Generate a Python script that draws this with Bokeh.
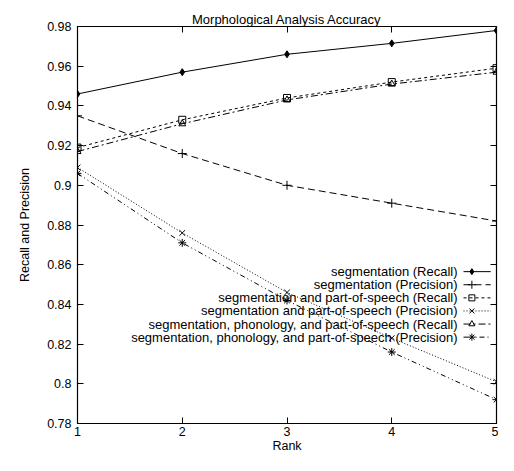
from bokeh.plotting import figure
from bokeh.models import Range1d, LinearAxis, FixedTicker
from bokeh.core.properties import value
from bokeh.embed import file_html
from bokeh.resources import INLINE

rank = [1, 2, 3, 4, 5]
seg_recall = [0.946, 0.957, 0.966, 0.9715, 0.978]
seg_precision = [0.935, 0.916, 0.900, 0.891, 0.882]
segpos_recall = [0.919, 0.933, 0.944, 0.952, 0.959]
segpos_precision = [0.909, 0.876, 0.846, 0.823, 0.801]
segphonpos_recall = [0.917, 0.931, 0.943, 0.951, 0.957]
segphonpos_precision = [0.906, 0.871, 0.842, 0.816, 0.792]

labels = [
    "segmentation (Recall)",
    "segmentation (Precision)",
    "segmentation and part-of-speech (Recall)",
    "segmentation and part-of-speech (Precision)",
    "segmentation, phonology, and part-of-speech (Recall)",
    "segmentation, phonology, and part-of-speech (Precision)",
]
series = [seg_recall, seg_precision, segpos_recall, segpos_precision,
          segphonpos_recall, segphonpos_precision]
dashes = ["solid", "7 4", "3 3", "1 2", "7 3 2 3", "5 3 1 3 1 3"]
markers = ["diamond", "cross", "square", "x", "triangle", "asterisk"]
msizes = [7, 9, 7, 8, 7, 8]

x_ticks = [1, 2, 3, 4, 5]
y_ticks = [0.78, 0.80, 0.82, 0.84, 0.86, 0.88, 0.90, 0.92, 0.94, 0.96, 0.98]

FONT = "Liberation Sans"

p = figure(width=498, height=455, output_backend="svg", toolbar_location=None,
           x_range=Range1d(1, 5), y_range=Range1d(0.78, 0.98),
           title="Morphological Analysis Accuracy",
           min_border_left=77, min_border_right=2, min_border_top=26, min_border_bottom=24)
p.title.align = "center"
p.title.text_font = FONT
p.title.text_font_style = "normal"
p.title.text_font_size = "13px"
p.title.text_color = "black"
p.title.offset = 0
p.title.standoff = 0

p.xgrid.visible = False
p.ygrid.visible = False
p.outline_line_color = "black"
p.outline_line_width = 1.2
p.background_fill_color = "white"
p.border_fill_color = "white"

def style_axis(ax):
    ax.axis_line_color = "black"
    ax.major_tick_in = 6
    ax.major_tick_out = 0
    ax.minor_tick_line_color = None
    ax.major_tick_line_color = "black"
    ax.major_label_text_font = FONT
    ax.major_label_text_font_size = "12.5px"
    ax.major_label_text_color = "black"
    ax.axis_label_text_font = FONT
    ax.axis_label_text_font_style = "normal"
    ax.axis_label_text_font_size = "12.5px"
    ax.axis_label_text_color = "black"

xa = p.xaxis[0]
xa.ticker = FixedTicker(ticks=x_ticks)
xa.axis_label = "Rank"
xa.axis_label_standoff = 0
xa.major_label_standoff = 3
style_axis(xa)

ya = p.yaxis[0]
ya.ticker = FixedTicker(ticks=y_ticks)
ya.major_label_overrides = {t: f"{t:g}" for t in y_ticks}
ya.major_label_standoff = 6
ya.axis_label = "Recall and Precision"
ya.axis_label_standoff = 12
style_axis(ya)

ra = LinearAxis(ticker=FixedTicker(ticks=y_ticks))
style_axis(ra)
ra.major_label_overrides = {t: "" for t in y_ticks}
ra.major_label_standoff = 0
p.add_layout(ra, "right")
ta = LinearAxis(ticker=FixedTicker(ticks=x_ticks))
style_axis(ta)
ta.major_label_overrides = {t: "" for t in x_ticks}
ta.major_label_standoff = 0
ta.major_label_text_font_size = "1px"
p.add_layout(ta, "above")

for ys, d, m, s in zip(series, dashes, markers, msizes):
    p.line(rank, ys, line_color="black", line_width=1, line_dash=d)
    fill = "black" if m == "diamond" else None
    p.scatter(rank, ys, marker=m, size=s, line_color="black", fill_color=fill, line_width=1)

# legend (label on the left, sample on the right)
leg_text_x = 4.628
leg_line_x0 = 4.685
leg_line_x1 = 4.945
leg_mark_x = 4.765
leg_y0 = 0.8565
leg_dy = 0.0066
for i, (lab, d, m, s) in enumerate(zip(labels, dashes, markers, msizes)):
    yy = leg_y0 - i * leg_dy
    p.text([leg_text_x], [yy], text=[lab], text_align="right", text_baseline="middle",
           text_font=value(FONT), text_font_size="13px", text_color="black")
    p.line([leg_line_x0, leg_line_x1], [yy, yy], line_color="black", line_width=1, line_dash=d)
    fill = "black" if m == "diamond" else None
    p.scatter([leg_mark_x], [yy], marker=m, size=s - 1,
              line_color="black", fill_color=fill, line_width=1)

open("out.html", "w").write(file_html(p, INLINE))
